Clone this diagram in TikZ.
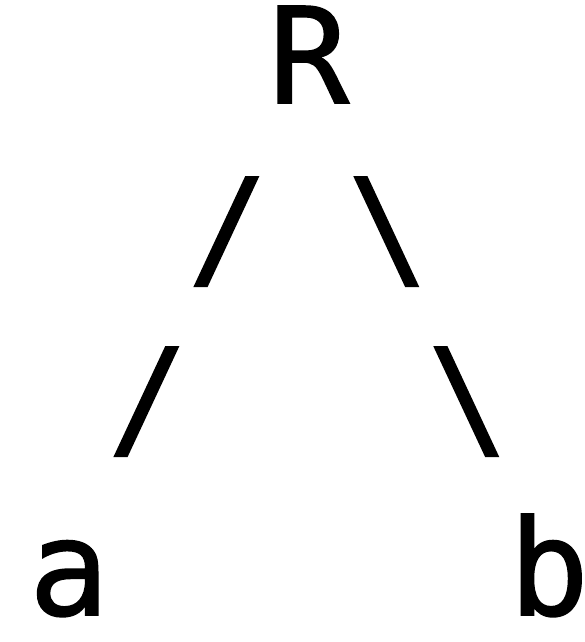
\documentclass[tikz,border=0pt]{standalone}
\usepackage{fontspec}
\usepackage{tikz}
\usetikzlibrary{positioning}
\newfontfamily\treemono[FakeBold=1.2]{DejaVu Sans Mono}
\newcommand\treefont{\treemono\fontsize{133}{133}\selectfont}
\tikzset{
  glyph/.style={
    font=\treefont,
    inner sep=0pt,
    anchor=base,
    text=black
  }
}

\begin{document}
\begin{tikzpicture}[x=1pt,y=1pt]
  \useasboundingbox (0,0) rectangle (585,642);
  % root, branches and leaves, one column = 80
  \node[glyph] (root) at (309,539) {R};
  \node[glyph] (upleft) at (228,368) {/};
  \node[glyph] (upright) at (388,368) {\textbackslash};
  \node[glyph] (lowleft) at (148,198) {/};
  \node[glyph] (lowright) at (468,198) {\textbackslash};
  \node[glyph] (leafa) at (69,27) {a};
  \node[glyph] (leafb) at (549,27) {b};
\end{tikzpicture}
\end{document}
